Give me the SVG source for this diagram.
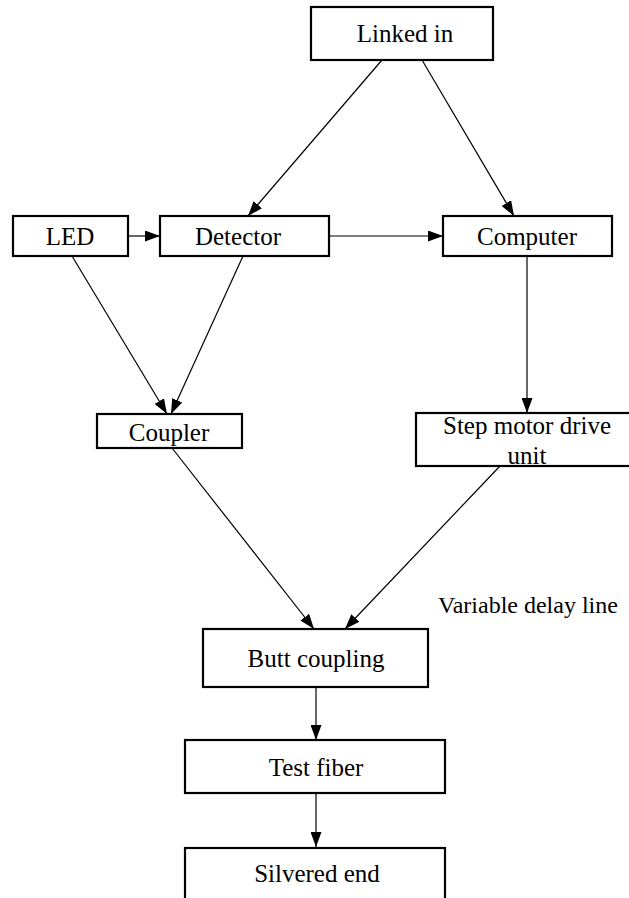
<svg xmlns="http://www.w3.org/2000/svg" width="629" height="898" viewBox="0 0 629 898">
<style>
rect{fill:#fff;stroke:#000;stroke-width:2.2}
text{font-family:"Liberation Serif","Times New Roman",serif;font-size:25px;fill:#000;text-anchor:middle}
.c line{stroke:#000;stroke-width:1.2}
</style>
<defs>
<marker id="ah" viewBox="0 0 15 11" refX="15" refY="5.5" markerWidth="15" markerHeight="11" markerUnits="userSpaceOnUse" orient="auto">
<path d="M0,0 L15,5.5 L0,11 Z" fill="#000"/>
</marker>
</defs>
<rect x="0" y="0" width="629" height="898" style="fill:#fff;stroke:none"/>
<g class="c" id="connectors">
<line x1="382" y1="60" x2="248" y2="216" marker-end="url(#ah)"/>
<line x1="422" y1="60" x2="514" y2="216" marker-end="url(#ah)"/>
<line x1="128" y1="236" x2="160" y2="236" marker-end="url(#ah)"/>
<line x1="329" y1="236" x2="443" y2="236" marker-end="url(#ah)"/>
<line x1="72" y1="256" x2="167" y2="414" marker-end="url(#ah)"/>
<line x1="243" y1="256" x2="171" y2="414" marker-end="url(#ah)"/>
<line x1="527" y1="256" x2="527" y2="413" marker-end="url(#ah)"/>
<line x1="172" y1="448" x2="314" y2="629" marker-end="url(#ah)"/>
<line x1="500" y1="466" x2="345" y2="629" marker-end="url(#ah)"/>
<line x1="316" y1="687" x2="316" y2="740" marker-end="url(#ah)"/>
<line x1="316" y1="793" x2="316" y2="847" marker-end="url(#ah)"/>
</g>
<g id="linked-in"><rect x="311" y="7" width="182" height="53"/><text x="405" y="42">Linked in</text></g>
<g id="led"><rect x="13" y="216" width="115" height="40"/><text x="70" y="245">LED</text></g>
<g id="detector"><rect x="160" y="216" width="169" height="40"/><text x="238" y="245">Detector</text></g>
<g id="computer"><rect x="443" y="216" width="169" height="40"/><text x="527" y="245">Computer</text></g>
<g id="coupler"><rect x="97" y="414" width="145" height="34"/><text x="169" y="441">Coupler</text></g>
<g id="step-motor"><rect x="416" y="413" width="215" height="53"/><text x="527" y="434">Step motor drive</text><text x="527" y="464">unit</text></g>
<g id="variable-delay"><text x="438" y="613" style="text-anchor:start;font-size:24px">Variable delay line</text></g>
<g id="butt-coupling"><rect x="203" y="629" width="225" height="58"/><text x="316" y="667">Butt coupling</text></g>
<g id="test-fiber"><rect x="185" y="740" width="260" height="53"/><text x="316" y="776">Test fiber</text></g>
<g id="silvered-end"><rect x="185" y="848" width="260" height="60"/><text x="317" y="882">Silvered end</text></g>
</svg>
